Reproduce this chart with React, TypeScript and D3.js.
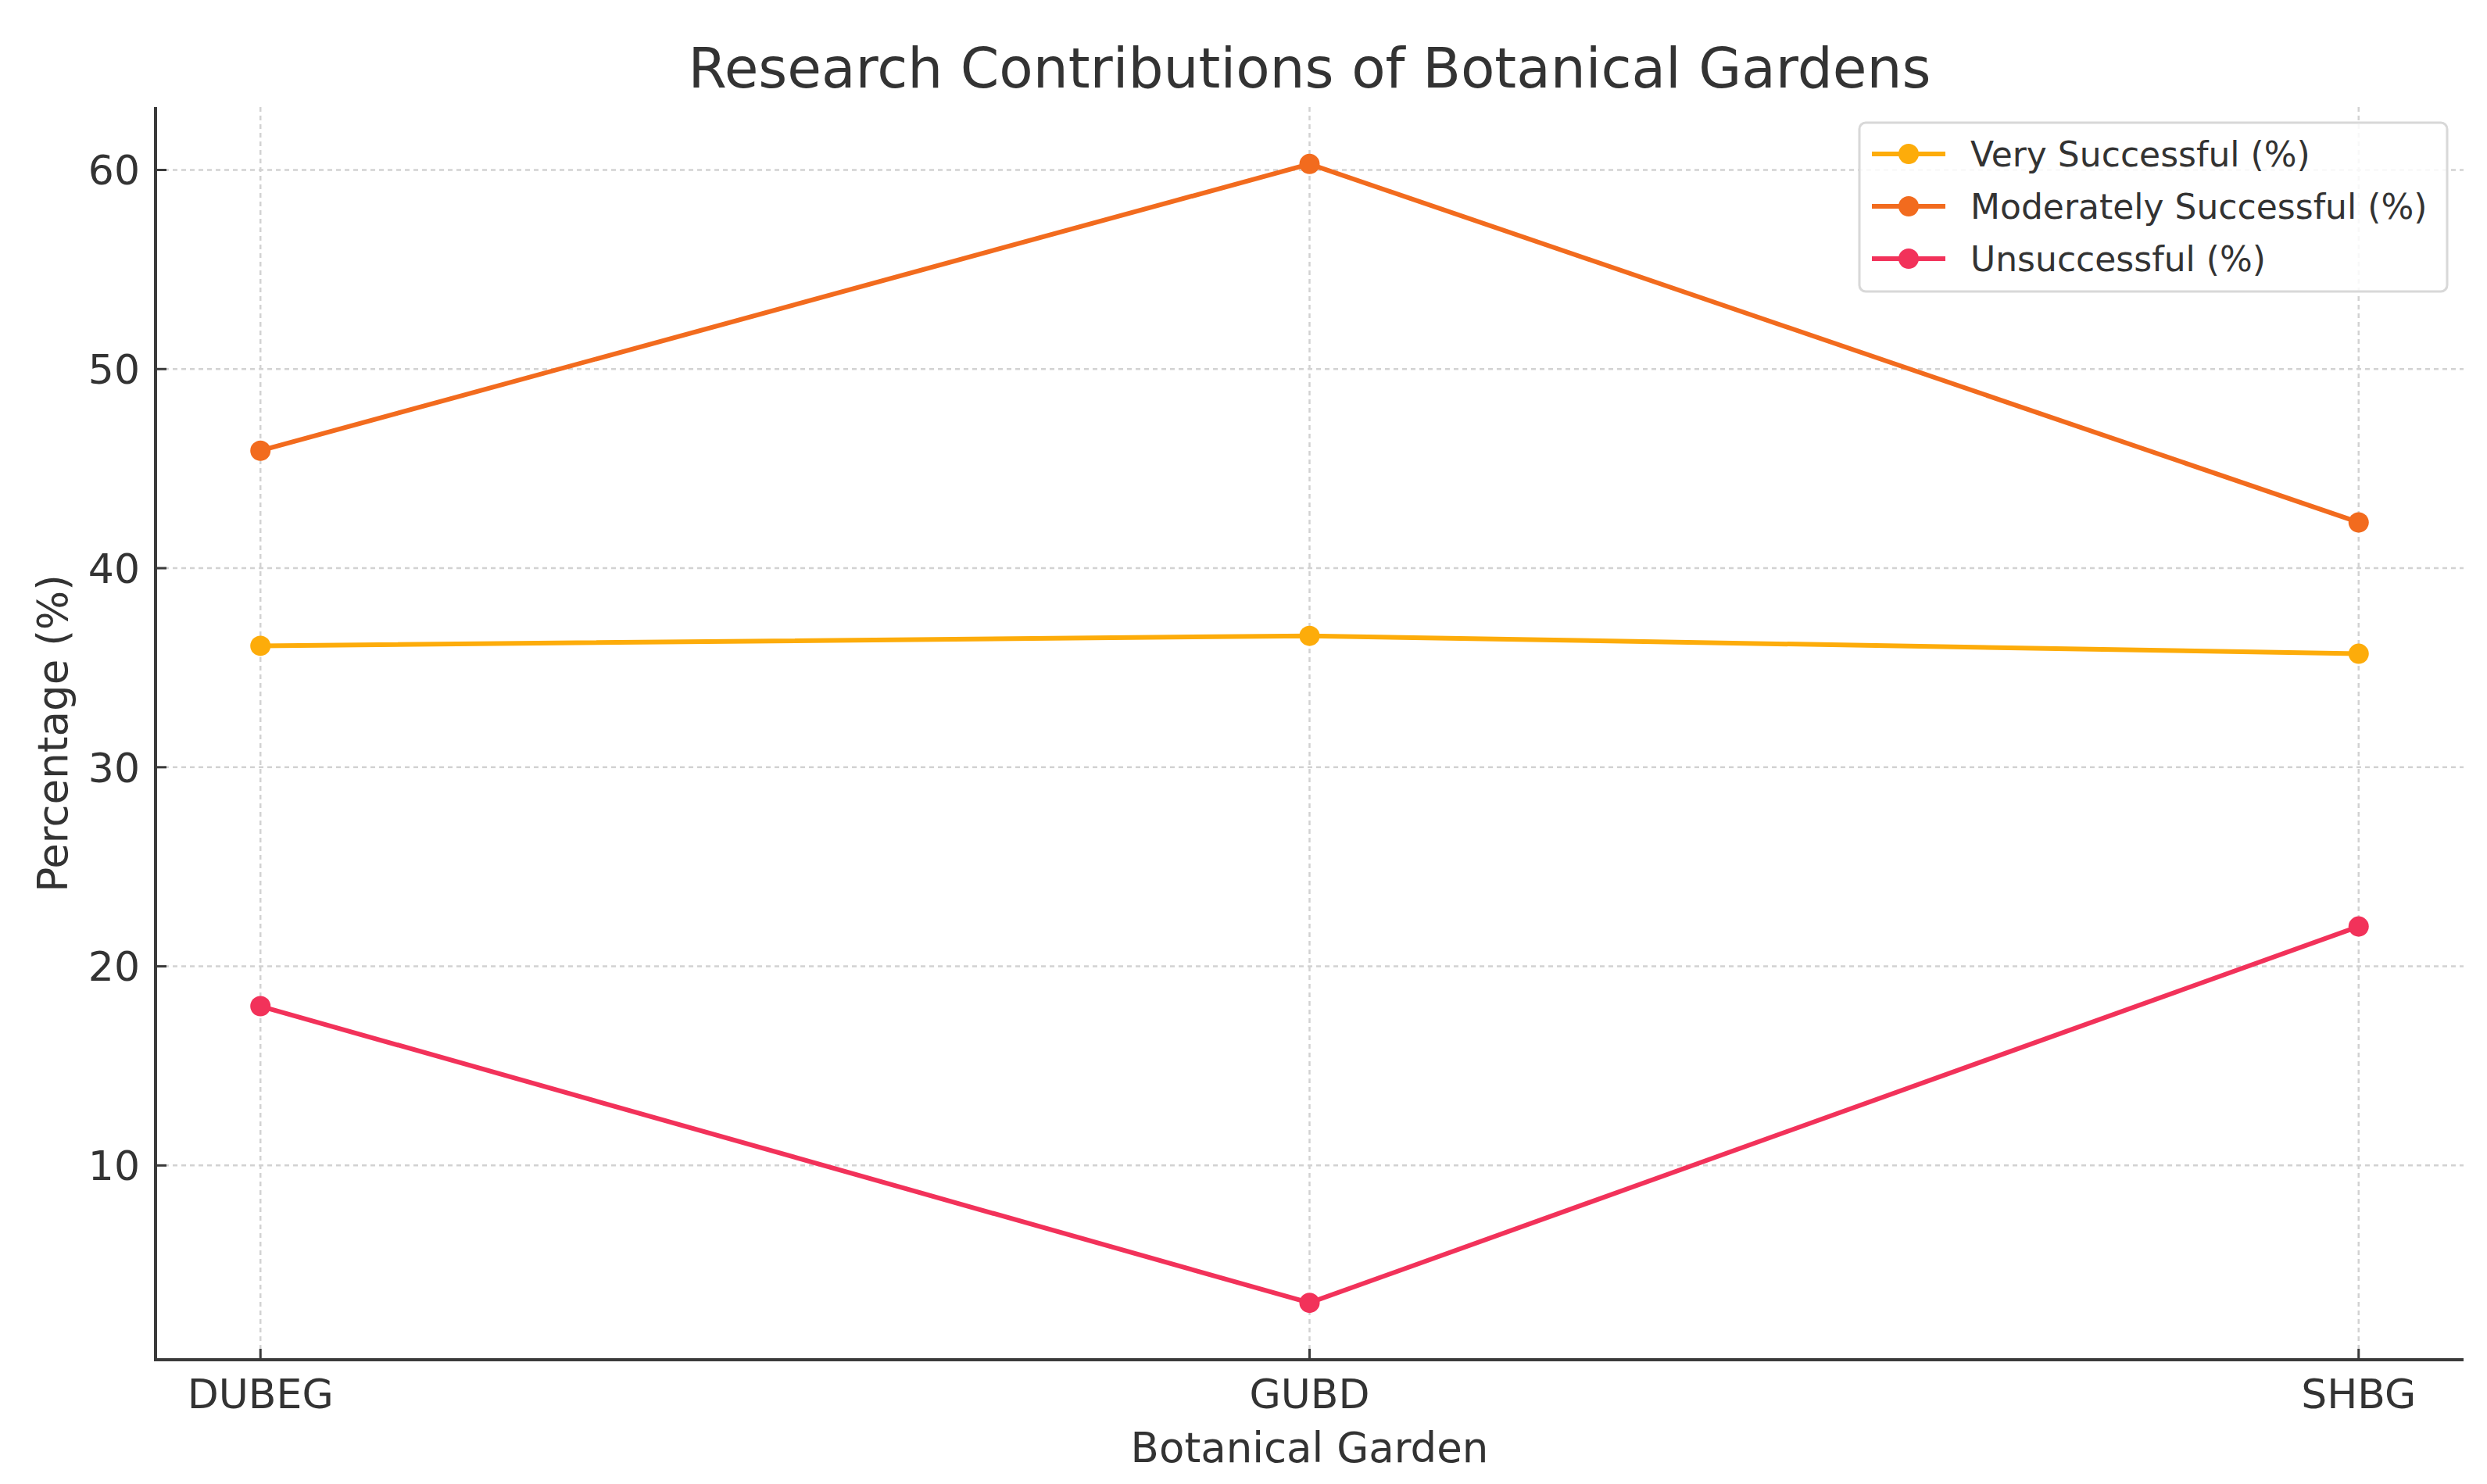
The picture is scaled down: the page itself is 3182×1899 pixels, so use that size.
import React from 'react';
import { scaleLinear, scalePoint, line, extent } from 'd3';

const gardens = ['DUBEG', 'GUBD', 'SHBG'];
const verySuccessful = [36.1, 36.6, 35.7];
const moderatelySuccessful = [45.9, 60.3, 42.3];
const unsuccessful = [18.0, 3.1, 22.0];
const yTicks = [10, 20, 30, 40, 50, 60];

const seriesNames = ['Very Successful (%)', 'Moderately Successful (%)', 'Unsuccessful (%)'];
const seriesColors = ['#fdac0a', '#f26b1e', '#f2325a'];
const seriesValues = [verySuccessful, moderatelySuccessful, unsuccessful];

const W = 3182;
const H = 1899;
const m = { left: 199, right: 3152, top: 137, bottom: 1740 };
const font = 'DejaVu Sans, sans-serif';
const textColor = '#333333';

const App: React.FC = () => {
  const x = scalePoint<string>().domain(gardens).range([m.left, m.right]).padding(0.1);

  // matplotlib-style 5% margins around the data
  const [lo, hi] = extent(seriesValues.flat()) as [number, number];
  const pad = (hi - lo) * 0.05;
  const y = scaleLinear().domain([lo - pad, hi + pad]).range([m.bottom, m.top]);

  const path = line<number>()
    .x((_, i) => x(gardens[i])!)
    .y(d => y(d));

  const legendX = 2379;
  const legendY = 157;

  return (
    <svg width={W} height={H} style={{ position: 'absolute', left: 0, top: 0, background: '#fff' }}>
      <rect width={W} height={H} fill="#fff" />
      <text x={(m.left + m.right) / 2} y={112} textAnchor="middle" fontFamily={font} fontSize={71} fill={textColor}>
        Research Contributions of Botanical Gardens
      </text>

      {/* grid */}
      <g stroke="#d2d2d2" strokeWidth={2.5} strokeDasharray="6,5">
        {yTicks.map(t => (
          <line key={t} x1={m.left} x2={m.right} y1={y(t)} y2={y(t)} />
        ))}
        {gardens.map(g => (
          <line key={g} x1={x(g)} x2={x(g)} y1={m.top} y2={m.bottom} />
        ))}
      </g>

      {/* series */}
      {seriesValues.map((vals, s) => (
        <g key={seriesNames[s]}>
          <path d={path(vals)!} fill="none" stroke={seriesColors[s]} strokeWidth={6} />
          {vals.map((v, i) => (
            <circle key={i} cx={x(gardens[i])} cy={y(v)} r={13} fill={seriesColors[s]} />
          ))}
        </g>
      ))}

      {/* axes */}
      <g stroke="#3a3a3a" strokeWidth={4}>
        <line x1={m.left} x2={m.left} y1={m.top} y2={m.bottom + 2} />
        <line x1={m.left - 2} x2={m.right} y1={m.bottom} y2={m.bottom} />
        {yTicks.map(t => (
          <line key={t} x1={m.left} x2={m.left + 14} y1={y(t)} y2={y(t)} strokeWidth={3} />
        ))}
        {gardens.map(g => (
          <line key={g} x1={x(g)} x2={x(g)} y1={m.bottom} y2={m.bottom - 14} strokeWidth={3} />
        ))}
      </g>

      <g fontFamily={font} fontSize={52} fill={textColor}>
        {yTicks.map(t => (
          <text key={t} x={m.left - 20} y={y(t)} dy="0.36em" textAnchor="end">
            {t}
          </text>
        ))}
        {gardens.map(g => (
          <text key={g} x={x(g)} y={1802} textAnchor="middle">
            {g}
          </text>
        ))}
        <text x={(m.left + m.right) / 2} y={1871} textAnchor="middle" fontSize={53}>
          Botanical Garden
        </text>
        <text
          transform={`translate(86, ${(m.top + m.bottom) / 2}) rotate(-90)`}
          textAnchor="middle"
          fontSize={53}
        >
          Percentage (%)
        </text>
      </g>

      {/* legend */}
      <g>
        <rect x={legendX} y={legendY} width={752} height={216} rx={8} fill="#fff" fillOpacity={0.85} stroke="#d8d8d8" strokeWidth={3} />
        {seriesNames.map((name, s) => {
          const cy = legendY + 40 + s * 67;
          return (
            <g key={name}>
              <line x1={legendX + 16} x2={legendX + 110} y1={cy} y2={cy} stroke={seriesColors[s]} strokeWidth={6} />
              <circle cx={legendX + 63} cy={cy} r={13} fill={seriesColors[s]} />
              <text x={legendX + 142} y={cy} dy="0.36em" fontFamily={font} fontSize={44} fill={textColor}>
                {name}
              </text>
            </g>
          );
        })}
      </g>
    </svg>
  );
};

export default App;
